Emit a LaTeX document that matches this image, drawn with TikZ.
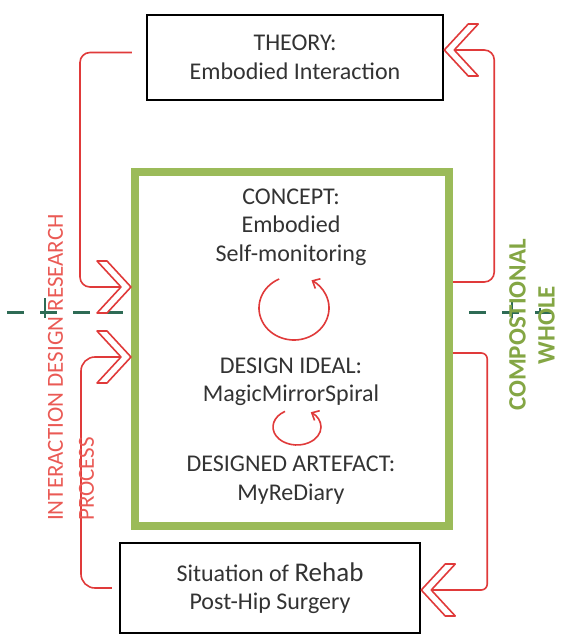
\documentclass[tikz,border=0pt]{standalone}
\usepackage{fontspec}
\setmainfont{Carlito}
\usepackage{tikz}
\usetikzlibrary{arrows.meta,positioning,calc}
\usepackage{xcolor}

\definecolor{penred}{HTML}{E03A3A}
\definecolor{labelred}{HTML}{EA5A55}
\definecolor{framegreen}{HTML}{9BBB59}
\definecolor{wholegreen}{HTML}{84A644}
\definecolor{axisgreen}{HTML}{2E6B55}
\definecolor{inkgray}{HTML}{333333}

\newcommand{\boxfont}{\fontsize{24}{28.5}\selectfont}

\tikzset{
  sketchbox/.style={draw=black, line width=2.5pt, fill=white, align=center, text=inkgray, font=\boxfont},
  boxtext/.style={align=center, text=inkgray, font=\boxfont},
  redline/.style={draw=penred, line width=1.6pt},
  loopline/.style={draw=penred, line width=1.6pt, -{Straight Barb[length=6pt,width=11pt]}},
  chevron/.pic={\draw[penred, fill=white, line width=1.6pt, line join=round]
    (0,0) -- (-24,-26) -- (-34,-26) -- (-10,0) -- (-34,26) -- (-24,26) -- cycle;}
}

\begin{document}
\begin{tikzpicture}[x=1pt, y=-1pt]
    \useasboundingbox (0,0) rectangle (560,639);

    \draw[axisgreen, line width=3pt, dash pattern=on 17pt off 16pt] (7,312) -- (552,312);
    \draw[axisgreen, line width=2pt] (45,298) -- (45,318);
    \draw[axisgreen, line width=2pt] (512,300) -- (512,318);
    \draw[axisgreen, line width=2pt] (540,308) -- (540,318);

    \node[draw=framegreen, line width=8pt, fill=white, minimum width=314pt, minimum height=354pt] (frame) at (292,349) {};

    \node[boxtext] (concept) at (291,227) {CONCEPT:\\Embodied\\Self-monitoring};
    \node[boxtext] (ideal) at (291,382) {DESIGN IDEAL:\\MagicMirrorSpiral};
    \node[boxtext] (artefact) at (291,480) {DESIGNED ARTEFACT:\\MyReDiary};

    \draw[loopline] (294,308) ++(245:35 and 32) arc[start angle=245, end angle=-60, x radius=35, y radius=32];
    \draw[loopline] (297,427) ++(240:24 and 18) arc[start angle=240, end angle=-55, x radius=24, y radius=18];

    \node[sketchbox, minimum width=296pt, minimum height=85pt] (theory) at (295,57.5) {THEORY:\\Embodied Interaction};
    \node[sketchbox, minimum width=300pt, minimum height=90pt] (situation) at (270,588) {Situation of {\fontsize{27}{28.5}\selectfont Rehab}\\Post-Hip Surgery};

    \coordinate (upin) at ([yshift=62pt]frame.west);
    \coordinate (lowin) at ([yshift=-8pt]frame.west);
    \coordinate (thin) at ([yshift=7.5pt]theory.east);
    \coordinate (sitin) at ([yshift=-2pt]situation.east);

    \draw[redline, rounded corners=10pt] ([xshift=-14pt,yshift=5pt]theory.west) -| ([xshift=-51pt]upin) -- (upin);
    \draw[redline, rounded corners=14pt] ([xshift=-7pt]situation.west) -| ([xshift=-50pt]lowin) -- (lowin);
    \draw[redline, rounded corners=10pt] ([yshift=67pt]frame.east) -| ([xshift=50pt]thin) -- (thin);
    \draw[redline, rounded corners=6pt] ([yshift=-4pt]frame.east) -| ([xshift=66pt]sitin) -- (sitin);

    \pic at (upin) {chevron};
    \pic at (lowin) {chevron};
    \pic[rotate=180] at (thin) {chevron};
    \pic[rotate=180] at (sitin) {chevron};

    \node[rotate=90, anchor=west, inner sep=0pt, align=left, text=labelred, font=\fontsize{23}{31}\selectfont] (research) at (71,521) {INTERACTION DESIGN RESEARCH\\PROCESS};
    \node[rotate=90, align=center, text=wholegreen, font=\bfseries\fontsize{25}{29}\selectfont] (whole) at (532,325) {COMPOSTIONAL\\WHOLE};
\end{tikzpicture}
\end{document}
